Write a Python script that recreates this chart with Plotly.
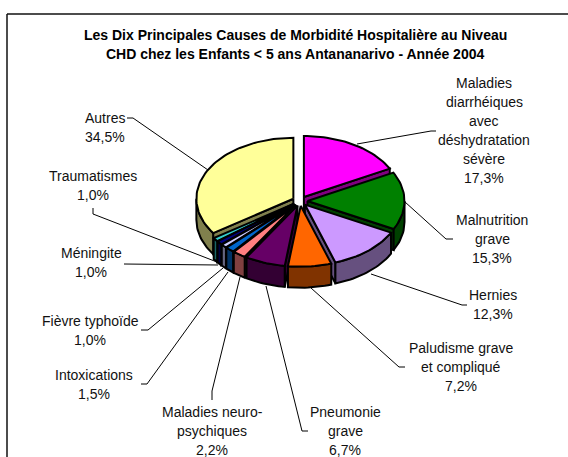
import math
import plotly.graph_objects as go

title_lines = ["Les Dix Principales Causes de Morbidité Hospitalière au Niveau",
               "CHD chez les Enfants < 5 ans Antananarivo - Année 2004"]

# slices, clockwise from 12 o'clock
causes = [
    ["Maladies", "diarrhéiques", "avec", "déshydratation", "sévère"],
    ["Malnutrition", "grave"],
    ["Hernies"],
    ["Paludisme grave", "et compliqué"],
    ["Pneumonie", "grave"],
    ["Maladies neuro-", "psychiques"],
    ["Intoxications"],
    ["Fièvre typhoïde"],
    ["Méningite"],
    ["Traumatismes"],
    ["Autres"],
]
values = [17.3, 15.3, 12.3, 7.2, 6.7, 2.2, 1.5, 1.0, 1.0, 1.0, 34.5]
top_colors = ["#FF00FF", "#008000", "#CC99FF", "#FF6600", "#660066", "#FF8080",
              "#0066CC", "#CCCCFF", "#000080", "#33CCCC", "#FFFF99"]
side_colors = ["#800080", "#004000", "#66507F", "#803300", "#330033", "#804040",
               "#003366", "#666680", "#000040", "#1A6666", "#80804D"]

# label position (centre x, first line y), then the leader line
label_pos = [(484, 83), (492, 220), (493, 295), (461, 348), (345, 412), (212, 412),
             (94, 375), (90, 321), (91, 253), (93, 176), (105, 118)]
leaders = [
    [(357, 144), (431, 131), (436, 131)],
    [(405, 202), (446, 239), (453, 239)],
    [(371, 274), (462, 305), (467, 305)],
    [(311, 288), (399, 367), (405, 367)],
    [(266, 286), (302, 431), (308, 431)],
    [(240, 277), (212, 391), (212, 400)],
    [(228, 272), (147, 384), (141, 384)],
    [(223, 268), (148, 330), (141, 330)],
    [(218, 265), (124, 264)],
    [(217, 262), (93, 214), (93, 208)],
    [(208, 170), (133, 118), (127, 118)],
]

CX, CY = 300, 201
RX, RY = 97, 61
DEPTH = 21
EXPLODE = 7.5
LINE = 2
FONT = "Liberation Sans, Arial, sans-serif"


def point(cx, cy, ang, dy=0):
    a = math.radians(ang)
    return cx + RX * math.sin(a), cy - RY * math.cos(a) + dy


def arc(cx, cy, a1, a2, dy=0):
    n = max(2, int((a2 - a1) / 2) + 2)
    return [point(cx, cy, a1 + (a2 - a1) * i / (n - 1), dy) for i in range(n)]


def poly(fig, pts, color):
    xs = [p[0] for p in pts] + [pts[0][0]]
    ys = [p[1] for p in pts] + [pts[0][1]]
    fig.add_trace(go.Scatter(x=xs, y=ys, mode="lines", fill="toself", fillcolor=color,
                             line=dict(color="black", width=LINE), hoverinfo="skip",
                             showlegend=False))


fig = go.Figure()

slices = []
start = 0
total = sum(values)
for i, v in enumerate(values):
    sweep = v / total * 360
    slices.append((i, start, start + sweep))
    start += sweep

# painter's order, back slices first
slices.sort(key=lambda s: -math.cos(math.radians((s[1] + s[2]) / 2)))

for i, a1, a2 in slices:
    mid = math.radians((a1 + a2) / 2)
    cx = CX + EXPLODE * math.sin(mid)
    cy = CY - EXPLODE * math.cos(mid) * RY / RX
    top = (cx, cy)
    bottom = (cx, cy + DEPTH)
    # cut faces that look towards the viewer
    if math.sin(math.radians(a1)) < 0:
        p = point(cx, cy, a1)
        poly(fig, [top, p, (p[0], p[1] + DEPTH), bottom], side_colors[i])
    if math.sin(math.radians(a2)) > 0:
        p = point(cx, cy, a2)
        poly(fig, [top, p, (p[0], p[1] + DEPTH), bottom], side_colors[i])
    # outer wall, front half only
    w1, w2 = max(a1, 90), min(a2, 270)
    if w2 > w1:
        poly(fig, arc(cx, cy, w1, w2) + arc(cx, cy, w1, w2, DEPTH)[::-1], side_colors[i])
    poly(fig, [top] + arc(cx, cy, a1, a2), top_colors[i])

# frame, cut off by the window on the right and at the bottom
fig.add_shape(type="line", x0=7, y0=14, x1=568, y1=14, line=dict(color="#111111", width=1.5))
fig.add_shape(type="line", x0=7, y0=14, x1=7, y1=457, line=dict(color="#111111", width=1.5))

for pts in leaders:
    fig.add_trace(go.Scatter(x=[p[0] for p in pts], y=[p[1] for p in pts], mode="lines",
                             line=dict(color="black", width=1), hoverinfo="skip",
                             showlegend=False))

for j, line in enumerate(title_lines):
    fig.add_annotation(x=295, y=35 + 18.5 * j, text="<b>" + line + "</b>", showarrow=False,
                       font=dict(family=FONT, size=14, color="black"))

for i, lines in enumerate(causes):
    x, y = label_pos[i]
    pct = f"{values[i]:.1f}%".replace(".", ",")
    for j, line in enumerate(lines + [pct]):
        fig.add_annotation(x=x, y=y + 19 * j, text=line, showarrow=False,
                           font=dict(family=FONT, size=14, color="#111111"))

fig.update_layout(width=568, height=457, margin=dict(l=0, r=0, t=0, b=0),
                  paper_bgcolor="white", plot_bgcolor="white", showlegend=False,
                  xaxis=dict(range=[0, 568], visible=False),
                  yaxis=dict(range=[457, 0], visible=False))

fig.write_html("out.html", config={"displayModeBar": False},
               post_script="document.body.style.margin='0';")
